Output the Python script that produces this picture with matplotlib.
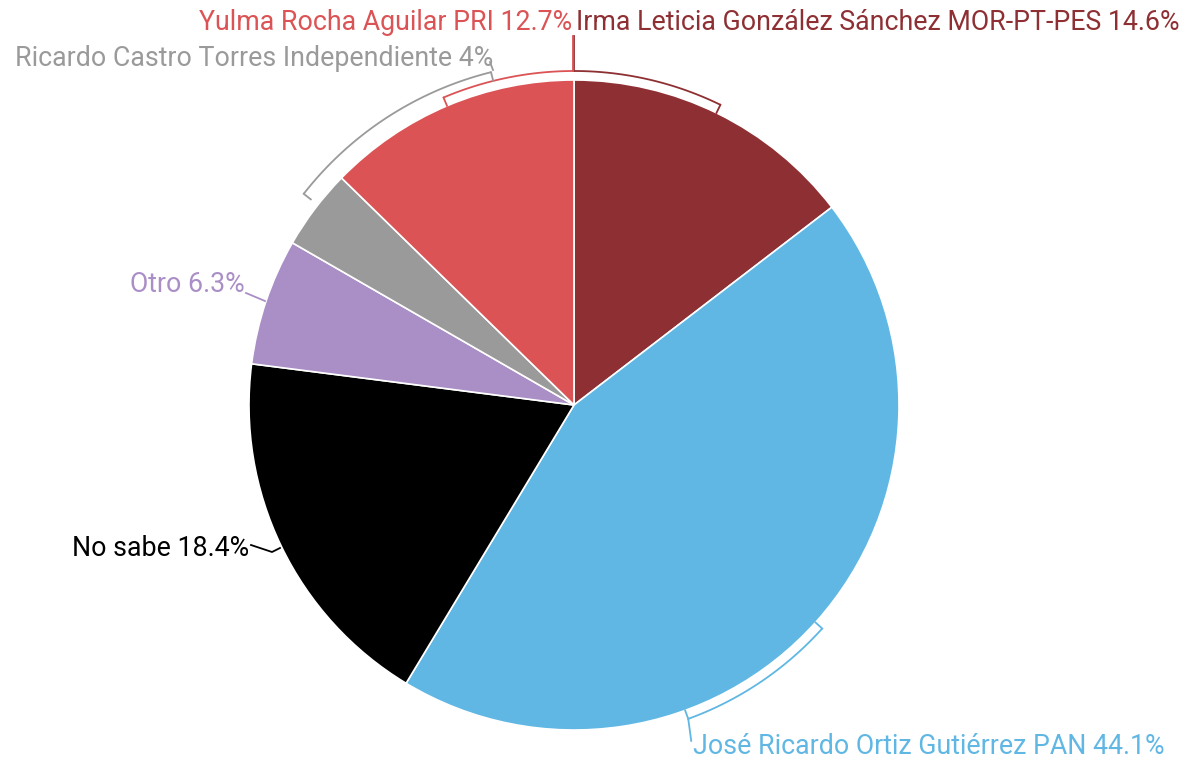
import numpy as np
import matplotlib.pyplot as plt

plt.rcParams['font.family'] = ['Roboto', 'DejaVu Sans']

names = ['Irma Leticia González Sánchez MOR-PT-PES', 'José Ricardo Ortiz Gutiérrez PAN',
         'No sabe', 'Otro', 'Ricardo Castro Torres Independiente', 'Yulma Rocha Aguilar PRI']
values = [14.6, 44.1, 18.4, 6.3, 4, 12.7]
colors = ['#8E3033', '#60B7E4', '#000000', '#AA8FC7', '#9A9A9A', '#DB5355']
text_colors = ['#8E3033', '#60B7E4', '#000000', '#AA8FC7', '#9A9A9A', '#DB5355']

cx, cy, R = 574, 405, 325

fig = plt.figure(figsize=(11.84, 7.6), dpi=100)
ax = fig.add_axes([0, 0, 1, 1])
# y axis runs downward (pixel style), so counterclock=True draws clockwise on screen
ax.pie(values, colors=colors, startangle=-90, counterclock=True, center=(cx, cy), radius=R,
       wedgeprops=dict(edgecolor='white', linewidth=1.2))
ax.set_xlim(0, 1184)
ax.set_ylim(760, 0)
ax.set_aspect('equal')
ax.axis('off')


def pt(a, r):
    # compass angle in degrees, clockwise from top
    t = np.radians(a)
    return cx + r * np.sin(t), cy - r * np.cos(t)


def bracket(a0, a1, r, color, tick0=True, tick1=True):
    a = np.linspace(a0, a1, 60)
    x, y = pt(a, r)
    ax.plot(x, y, color=color, lw=1.3, solid_capstyle='butt')
    for aa, on in ((a0, tick0), (a1, tick1)):
        if on:
            x0, y0 = pt(aa, r)
            x1, y1 = pt(aa, r - 9)
            ax.plot([x0, x1], [y0, y1], color=color, lw=1.3)


labels = [f'{n} {v:g}%' for n, v in zip(names, values)]
fs = 19.3

# Irma
bracket(0, 26, 334, colors[0], tick0=False)
ax.plot([cx, cx], [71, 36], color=colors[0], lw=1.3)
ax.text(576, 23, labels[0], color=text_colors[0], fontsize=fs, ha='left', va='center')
# Yulma
bracket(-23, 0, 334, colors[5], tick1=False)
ax.plot([cx - 1, cx - 1], [71, 36], color=colors[5], lw=1.3)
ax.text(572, 23, labels[5], color=text_colors[5], fontsize=fs, ha='right', va='center')
# Ricardo
bracket(-52, -14, 343, colors[4])
ax.plot([493, 490], [70, 62], color=colors[4], lw=1.3)
ax.text(493, 58, labels[4], color=text_colors[4], fontsize=fs, ha='right', va='center')
# Otro
ax.plot([246, 265], [293, 301], color=colors[3], lw=1.3)
ax.text(245, 285, labels[3], color=text_colors[3], fontsize=fs, ha='right', va='center')
# No sabe
ax.plot([251, 272, 280], [545, 552, 548], color=colors[2], lw=1.3)
ax.text(249, 548, labels[2], color=text_colors[2], fontsize=fs, ha='right', va='center')
# José
bracket(132, 160, 334, colors[1])
x0, y0 = pt(160, 334)
ax.plot([x0, x0 + 3], [y0, y0 + 22], color=colors[1], lw=1.3)
ax.text(693, 747, labels[1], color=text_colors[1], fontsize=fs, ha='left', va='center')

fig.savefig('out.png', dpi=100)
